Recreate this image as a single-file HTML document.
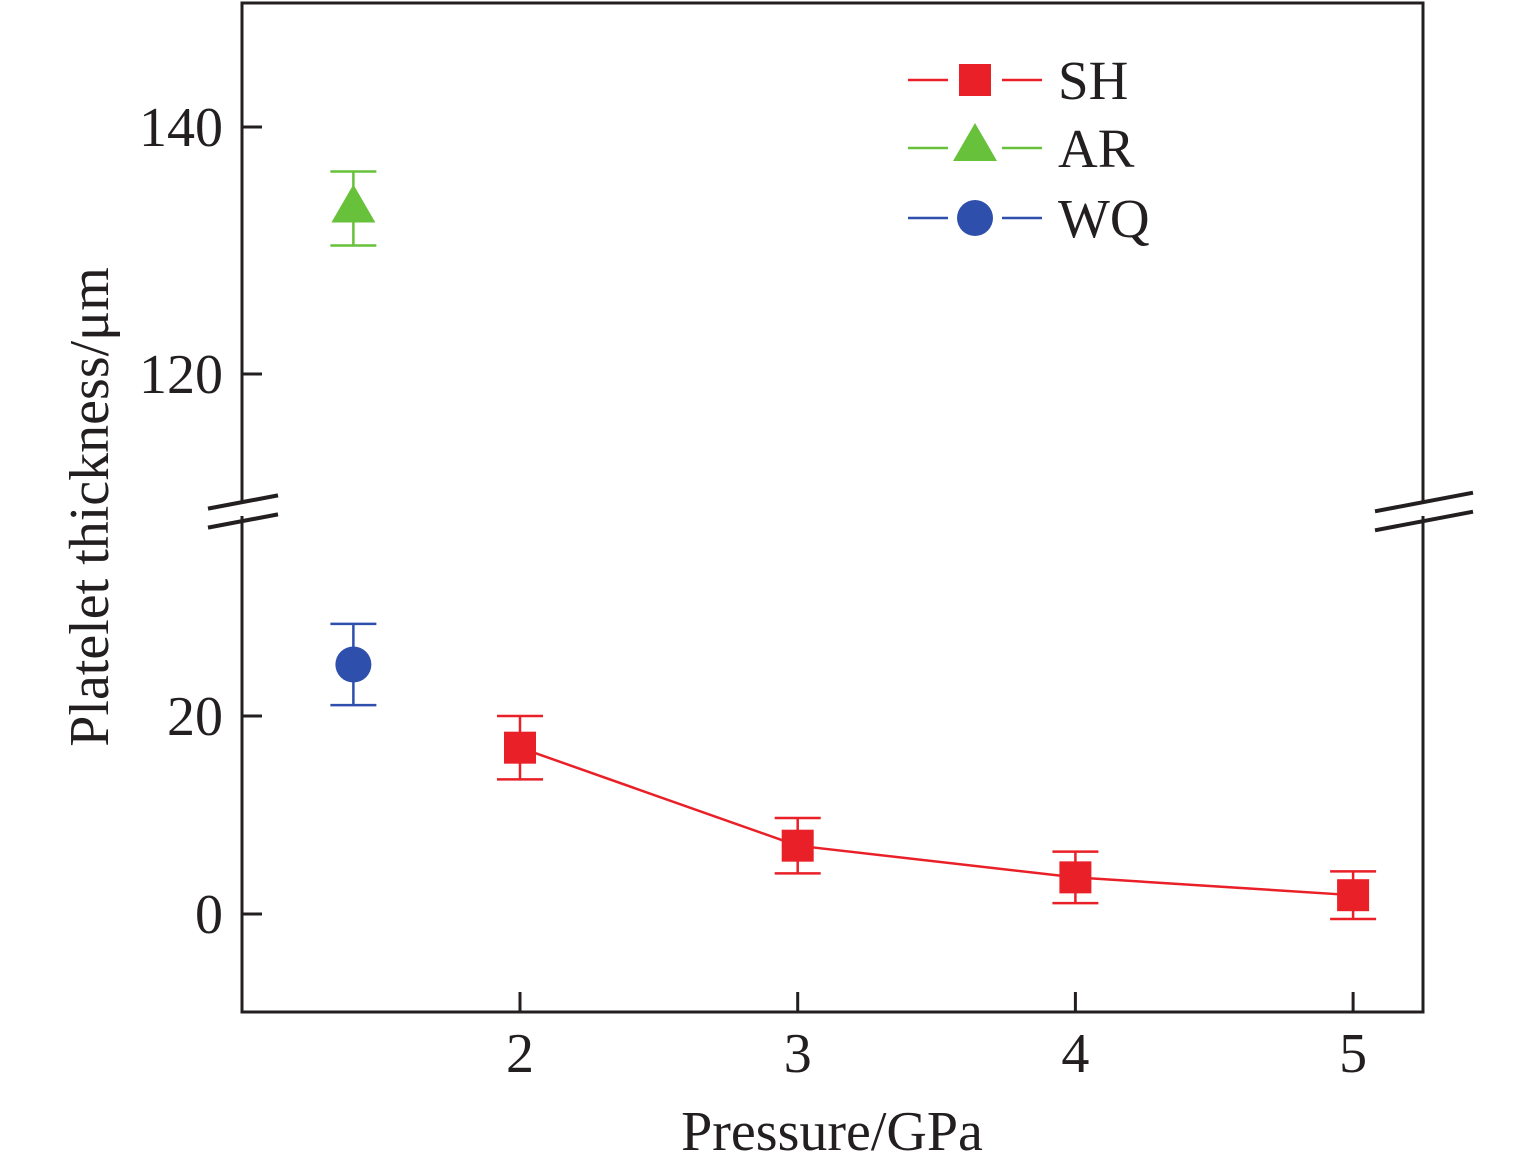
<!DOCTYPE html>
<html><head><meta charset="utf-8"><style>
body{margin:0;background:#fff}
svg{display:block;font-family:"Liberation Serif",serif}
</style></head><body>
<svg id="chart" width="1535" height="1167" viewBox="0 0 1535 1167">
<g id="marks"></g>
<g id="axes"></g>
</svg>
<script>
const shPressure=[2,3,4,5];
const shThickness=[16.8,6.9,3.7,1.9];
const shError=[3.2,2.8,2.6,2.4];
const wqPressure=[1.4];
const wqThickness=[25.2];
const wqError=[4.1];
const arPressure=[1.4];
const arThickness=[133.4];
const arError=[3.0];
const xTicks=[2,3,4,5];
const yTicksLow=[0,20];
const yTicksHigh=[120,140];

const NS='http://www.w3.org/2000/svg';
const L=242,R=1423,T=3,B=1012;
function xs(v){return 520+(v-2)*277.7;}
function ys(v){return v>=80?127+(140-v)*12.35:914-v*9.9;}
const marks=document.getElementById('marks'),axes=document.getElementById('axes');
function el(tag,at,parent){const e=document.createElementNS(NS,tag);for(const k in at)e.setAttribute(k,at[k]);parent.appendChild(e);return e;}

const frame=el('rect',{x:L,y:T,width:R-L,height:B-T,fill:'none',stroke:'#231f20','stroke-width':3},axes);


[[L,'left',208,278],[R,'right',1375,1473]].forEach(([x,side,x0,x1])=>{
  const g=el('rect',{x:x-3,y:502,width:6,height:14,fill:'#fff'},axes);
  
  
  const dy=(x1-x0)*0.19;
  [0,19].forEach((o,i)=>{
    const s=el('line',{x1:x0,y1:509+o+dy/2-7,x2:x1,y2:509+o-dy/2-7,stroke:'#231f20','stroke-width':4},axes);
    
    
  });
});
xTicks.forEach(v=>{
  const t=el('line',{x1:xs(v),y1:B,x2:xs(v),y2:B-20,stroke:'#231f20','stroke-width':3},axes);
  
  
  const lb=el('text',{x:xs(v),y:1072,'font-size':56,'text-anchor':'middle',fill:'#231f20'},axes);
  lb.textContent=v;
  
  
});
yTicksLow.concat(yTicksHigh).forEach(v=>{
  const t=el('line',{x1:L,y1:ys(v),x2:L+20,y2:ys(v),stroke:'#231f20','stroke-width':3},axes);
  
  
  const lb=el('text',{x:223,y:ys(v)+19,'font-size':56,'text-anchor':'end',fill:'#231f20'},axes);
  lb.textContent=v;
  
  
});
const xt=el('text',{x:832,y:1150,'font-size':56,'text-anchor':'middle',fill:'#231f20'},axes);
xt.textContent='Pressure/GPa';


const yt=el('text',{x:0,y:0,'font-size':56,'text-anchor':'middle',fill:'#231f20',transform:'translate(108,507) rotate(-90)'},axes);
yt.textContent='Platelet thickness/μm';



function errbar(x,v,e,color,name){
  const g=el('g',{stroke:color,'stroke-width':2.5},marks);
  
  
  el('line',{x1:x,y1:ys(v+e),x2:x,y2:ys(v-e)},g);
  el('line',{x1:x-23,y1:ys(v+e),x2:x+23,y2:ys(v+e)},g);
  el('line',{x1:x-23,y1:ys(v-e),x2:x+23,y2:ys(v-e)},g);
}
const RED='#ea2028',GRN='#67c13a',BLU='#2f4fad';
const pl=el('polyline',{points:shPressure.map((p,i)=>xs(p)+','+ys(shThickness[i])).join(' '),fill:'none',stroke:RED,'stroke-width':2.5},marks);


shPressure.forEach((p,i)=>{
  errbar(xs(p),shThickness[i],shError[i],RED,'sh-error-bar-'+p);
  const m=el('rect',{x:xs(p)-16,y:ys(shThickness[i])-16,width:32,height:32,fill:RED},marks);
  
  
});
wqPressure.forEach((p,i)=>{
  errbar(xs(p),wqThickness[i],wqError[i],BLU,'wq-error-bar');
  const m=el('circle',{cx:xs(p),cy:ys(wqThickness[i]),r:18,fill:BLU},marks);
  
  
});
arPressure.forEach((p,i)=>{
  errbar(xs(p),arThickness[i],arError[i],GRN,'ar-error-bar');
  const x=xs(p),y=ys(arThickness[i]);
  const m=el('polygon',{points:`${x},${y-24} ${x+22},${y+14} ${x-22},${y+14}`,fill:GRN},marks);
  
  
});
const leg=el('g',{},axes);


[['SH',RED,80,'sq'],['AR',GRN,148,'tri'],['WQ',BLU,218,'ci']].forEach(([n,c,y,s])=>{
  const g=el('g',{},leg);
  
  
  el('line',{x1:908,y1:y,x2:948,y2:y,stroke:c,'stroke-width':2.5},g);
  el('line',{x1:1002,y1:y,x2:1042,y2:y,stroke:c,'stroke-width':2.5},g);
  if(s==='sq')el('rect',{x:959,y:y-16,width:32,height:32,fill:c},g);
  if(s==='tri')el('polygon',{points:`975,${y-25} 997,${y+13} 953,${y+13}`,fill:c},g);
  if(s==='ci')el('circle',{cx:975,cy:y,r:18,fill:c},g);
  const t=el('text',{x:1058,y:y+19,'font-size':55,fill:'#231f20'},g);
  t.textContent=n;
});
</script>
</body></html>
